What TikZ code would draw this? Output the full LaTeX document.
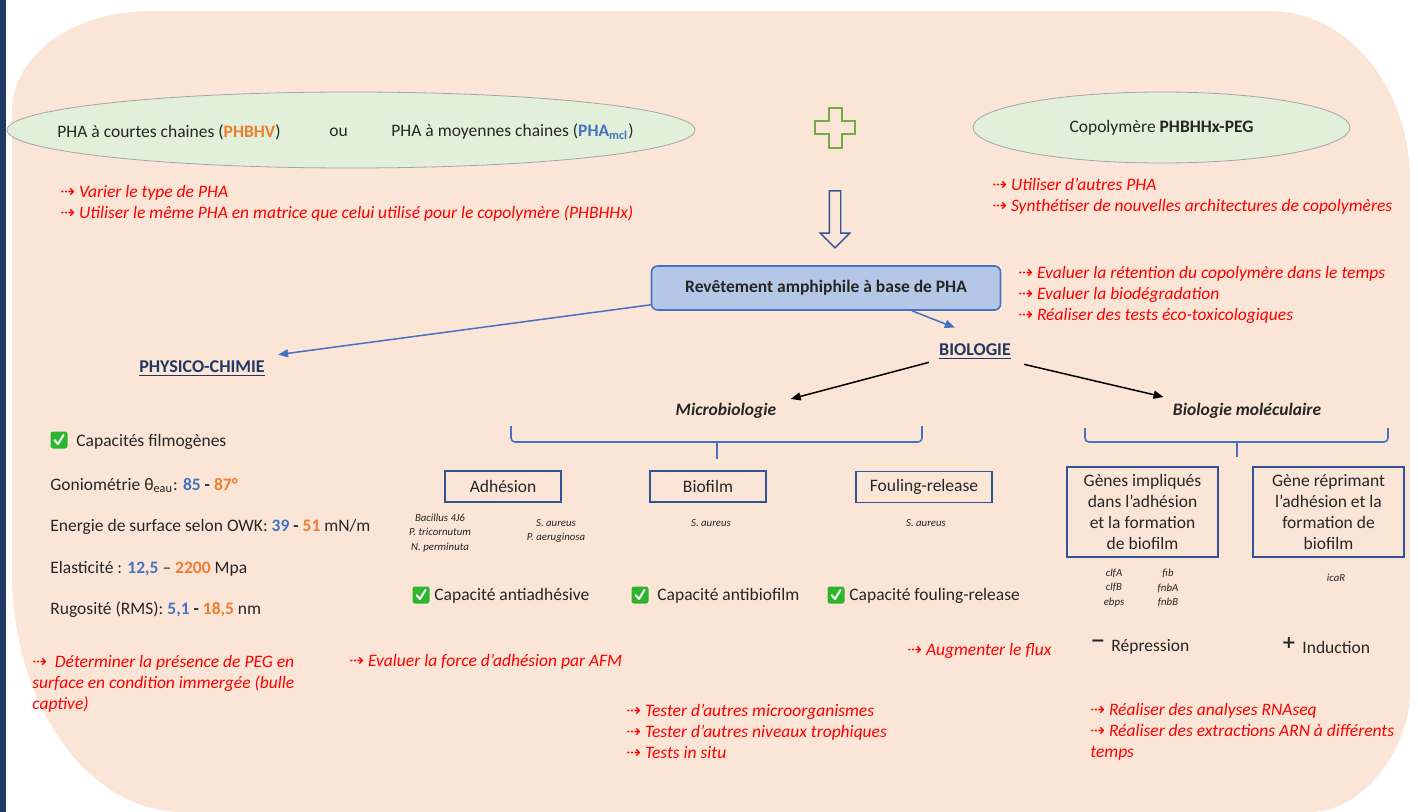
\documentclass[tikz,border=0pt]{standalone}
\usepackage{fontspec}
\setmainfont{Carlito}
\newfontfamily\symfont{DejaVu Sans}
\usetikzlibrary{shapes.geometric, shapes.arrows, arrows.meta, positioning}

\definecolor{peach}{HTML}{FBE5D6}
\definecolor{palegreen}{HTML}{E2F0D9}
\definecolor{boxblue}{HTML}{B4C7E7}
\definecolor{lineblue}{HTML}{4472C4}
\definecolor{navy}{HTML}{203864}
\definecolor{darkframe}{HTML}{2F5597}
\definecolor{numorange}{HTML}{ED7D31}
\definecolor{plusgreen}{HTML}{70AD47}
\definecolor{chkgreen}{HTML}{2DB52D}
\definecolor{ideared}{HTML}{FF0000}
\definecolor{inkgray}{HTML}{262626}

\newcommand{\ideaarrow}{{\symfont\upshape ⇢}}
\newcommand{\nblue}[1]{\textbf{\textcolor{lineblue}{#1}}}
\newcommand{\norange}[1]{\textbf{\textcolor{numorange}{#1}}}

\begin{document}
\begin{tikzpicture}[
    x=0.5pt, y=-0.5pt,
    every node/.style={font=\fontsize{8.75}{10.5}\selectfont, inner sep=0pt, text=inkgray},
    pill/.style={ellipse, draw=gray!70, fill=palegreen, line width=0.4pt},
    mainbox/.style={rectangle, rounded corners=3pt, draw=lineblue, fill=boxblue, line width=0.8pt,
        minimum width=174.5pt, minimum height=22pt, font=\fontsize{8.75}{10}\selectfont\bfseries},
    testbox/.style={rectangle, draw=darkframe, line width=0.7pt, minimum height=15.5pt},
    genebox/.style={rectangle, draw=darkframe, line width=0.7pt, minimum width=75.5pt, minimum height=45pt, align=center},
    idea/.style={text=ideared, font=\fontsize{8.75}{10.5}\selectfont\itshape, align=left, anchor=west},
    secttitle/.style={text=navy, font=\fontsize{9}{10}\selectfont\bfseries},
    branch/.style={font=\fontsize{8.75}{10}\selectfont\bfseries\itshape},
    species/.style={font=\fontsize{5.4}{7.3}\selectfont\itshape, align=center},
    featline/.style={anchor=west},
    barrow/.style={-{Triangle[length=5pt,width=4pt]}, draw=lineblue, line width=0.75pt},
    karrow/.style={-{Triangle[length=5pt,width=4pt]}, draw=black, line width=0.75pt},
    bracket/.style={draw=lineblue, line width=0.8pt, rounded corners=2pt},
    chkbox/.pic={
        \fill[chkgreen, rounded corners=1.2pt] (-8.5,-8.5) rectangle (8.5,8.5);
        \draw[white, line width=1pt, line cap=round, line join=round] (-4.5,0) -- (-1,4) -- (4.5,-5);
    }
]
\useasboundingbox (0,0) rectangle (1418,812);

% ---- fond ----
\fill[navy] (0,0) rectangle (6,812);
\fill[peach] (12,111) -- (12,572)
    .. controls (12,704.5) and (87.5,812) .. (183,812)
    -- (1310,812)
    .. controls (1365.2,812) and (1410,745.8) .. (1410,692)
    -- (1410,181)
    .. controls (1410,87.2) and (1347.3,11) .. (1270,11)
    -- (150,11)
    .. controls (72.7,11) and (12,55.8) .. (12,111) -- cycle;

% ---- materiaux de depart ----
\node[pill, minimum width=344pt, minimum height=38pt] (pha) at (351,130) {};
\node[anchor=west] (phashort) at (57,132) {PHA à courtes chaines (\textcolor{numorange}{\textbf{PHBHV}})};
\node (ou) at (338.5,132) {ou};
\node[anchor=west] (phamid) at (391,132) {PHA à moyennes chaines (\textcolor{lineblue}{\textbf{PHA\textsubscript{mcl}}})};
\node[pill, minimum width=188.5pt, minimum height=35.5pt] (copo) at (1161.5,127.5) {Copolymère \textbf{PHBHHx-PEG}};

\draw[plusgreen, line width=1pt] (828.5,108) -- (841.5,108) -- (841.5,121.5) -- (855,121.5) -- (855,134.5)
    -- (841.5,134.5) -- (841.5,148) -- (828.5,148) -- (828.5,134.5) -- (815,134.5) -- (815,121.5)
    -- (828.5,121.5) -- cycle;

\node[idea] (ideapha) at (60,203) {\ideaarrow\ Varier le type de PHA\\\ideaarrow\ Utiliser le même PHA en matrice que celui utilisé pour le copolymère (PHBHHx)};
\node[idea] (ideacopo) at (992,196) {\ideaarrow\ Utiliser d’autres PHA\\\ideaarrow\ Synthétiser de nouvelles architectures de copolymères};

\node[single arrow, draw=darkframe, line width=0.7pt, rotate=-90, minimum height=28.5pt,
    inner sep=2.5pt, single arrow head extend=4.5pt, single arrow tip angle=90] (down) at (835,216.5) {};

% ---- revetement ----
\node[mainbox] (rev) at (826,288) {Revêtement amphiphile à base de PHA};
\node[idea] (idearev) at (1018,294.5) {\ideaarrow\ Evaluer la rétention du copolymère dans le temps\\\ideaarrow\ Evaluer la biodégradation\\\ideaarrow\ Réaliser des tests éco-toxicologiques};

\node[secttitle] (phys) at (202,369) {\underline{PHYSICO-CHIMIE}};
\node[secttitle] (bio) at (975,352) {\underline{BIOLOGIE}};
\node[branch] (micro) at (726,411) {Microbiologie};
\node[branch] (mol) at (1247,411) {Biologie moléculaire};

\draw[barrow] ([yshift=3pt]rev.south west) -- ([xshift=6.5pt,yshift=3pt]phys.north east);
\draw[barrow] ([xshift=43pt]rev.south) -- ([xshift=8pt,yshift=8pt]bio.north west);
\draw[karrow] ([xshift=-5pt,yshift=-1pt]bio.south west) -- ([xshift=7pt,yshift=2pt]micro.north east);
\draw[karrow] ([xshift=6.5pt,yshift=-2pt]bio.south east) -- ([xshift=-4.5pt,yshift=3pt]mol.north west);

% ---- physico-chimie ----
\pic at (59,440) {chkbox};
\node[featline] (film) at (76,442) {Capacités filmogènes};
\node[featline] (gonio) at (50,485) {Goniométrie θ\textsubscript{eau}: \nblue{85} \textbf{-} \norange{87°}};
\node[featline] (owk) at (50,527) {Energie de surface selon OWK: \nblue{39} \textbf{-} \norange{51} mN/m};
\node[featline] (elast) at (50,569) {Elasticité : \nblue{12,5} – \norange{2200} Mpa};
\node[featline] (rugo) at (50,610) {Rugosité (RMS): \nblue{5,1} \textbf{-} \norange{18,5} nm};
\node[idea] (ideapeg) at (32,684) {\ideaarrow\ \ Déterminer la présence de PEG en\\surface en condition immergée (bulle\\captive)};

% ---- microbiologie ----
\draw[bracket] (511,426) -- (511,442) -- (922,442) -- (922,426);
\draw[bracket] (717,442) -- (717,459);

\node[testbox, minimum width=58pt] (adh) at (503,486.5) {Adhésion};
\node[testbox, minimum width=58pt] (biof) at (708,486.5) {Biofilm};
\node[testbox, minimum width=68pt] (foul) at (924,487) {Fouling-release};

\node[species] (spadh1) at (440,533) {Bacillus 4J6\\P. tricornutum\\N. perminuta};
\node[species] (spadh2) at (556,531) {S. aureus\\P. aeruginosa};
\node[species] (spbiof) at (711,523) {S. aureus};
\node[species] (spfoul) at (926,523) {S. aureus};

\pic at (421,595) {chkbox};
\node[featline] (antiadh) at (434,596) {Capacité antiadhésive};
\pic at (640,595) {chkbox};
\node[featline] (antibiof) at (657,596) {Capacité antibiofilm};
\pic at (836,595) {chkbox};
\node[featline] (foulcap) at (849,596) {Capacité fouling-release};

\node[idea] (ideaafm) at (349,662) {\ideaarrow\ Evaluer la force d’adhésion par AFM};
\node[idea] (ideaflux) at (907,651) {\ideaarrow\ Augmenter le flux};
\node[idea] (ideatest) at (626,731) {\ideaarrow\ Tester d’autres microorganismes\\\ideaarrow\ Tester d’autres niveaux trophiques\\\ideaarrow\ Tests in situ};

% ---- biologie moleculaire ----
\draw[bracket] (1085,428) -- (1085,442) -- (1388,442) -- (1388,428);
\draw[bracket] (1237,442) -- (1237,457);

\node[genebox] (genes) at (1142.5,512) {Gènes impliqués\\dans l’adhésion\\et la formation\\de biofilm};
\node[genebox] (repr) at (1328.5,512) {Gène réprimant\\l’adhésion et la\\formation de\\biofilm};

\node[species] (genlist1) at (1114,588) {clfA\\clfB\\ebps};
\node[species] (genlist2) at (1168,588) {fib\\fnbA\\fnbB};
\node[species] (genica) at (1336,578) {icaR};

\node (minus) at (1098,643) {\symfont\bfseries −};
\node[featline] (repress) at (1111,647) {Répression};
\node (plus) at (1289,643) {\symfont\bfseries +};
\node[featline] (induc) at (1302,647) {Induction};

\node[idea] (idearna) at (1090,732) {\ideaarrow\ Réaliser des analyses RNAseq\\\ideaarrow\ Réaliser des extractions ARN à différents\\temps};

\end{tikzpicture}
\end{document}
